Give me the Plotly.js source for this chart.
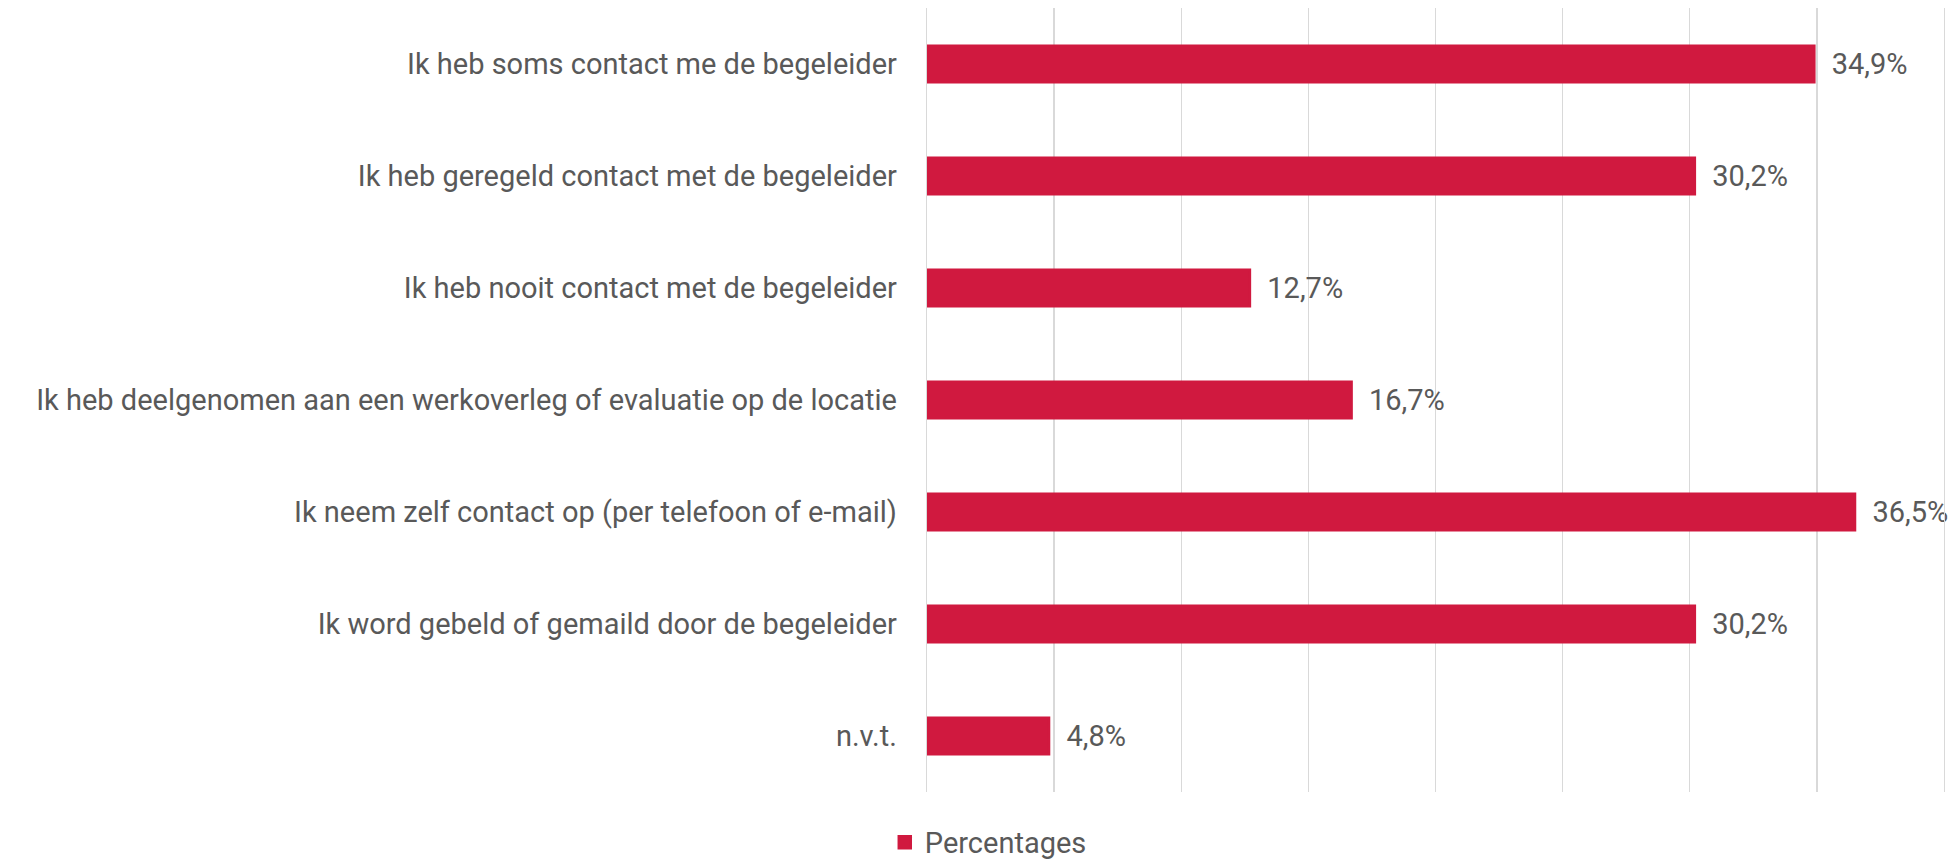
<!DOCTYPE html>
<html>
<head>
<meta charset="utf-8">
<script src="https://cdn.plot.ly/plotly-3.0.1.min.js"></script>
<style>
html,body{margin:0;padding:0;background:#fff;}
#chart{width:1957px;height:863px;}
</style>
</head>
<body>
<div id="chart"></div>
<script>
const categories = [
  "Ik heb soms contact me de begeleider",
  "Ik heb geregeld contact met de begeleider",
  "Ik heb nooit contact met de begeleider",
  "Ik heb deelgenomen aan een werkoverleg of evaluatie op de locatie",
  "Ik neem zelf contact op (per telefoon of e-mail)",
  "Ik word gebeld of gemaild door de begeleider",
  "n.v.t."
];
const percentages = [34.9, 30.2, 12.7, 16.7, 36.5, 30.2, 4.8];
const seriesName = "Percentages";
const valueLabels = percentages.map(v => '\u00A0\u00A0' + v.toFixed(1).replace('.', ',') + '%');

const FONT = 'Roboto, "Liberation Sans", sans-serif';
const GREY = '#595959';
const RED = '#D0193F';

const trace = {
  type: 'bar',
  orientation: 'h',
  name: seriesName,
  y: categories,
  x: percentages,
  text: valueLabels,
  textposition: 'outside',
  cliponaxis: false,
  textfont: {family: FONT, size: 29, color: GREY},
  marker: {color: RED, line: {color: RED, width: 2.5}},
  width: 0.325,
  hoverinfo: 'none',
  showlegend: true
};

const layout = {
  width: 1957,
  height: 863,
  margin: {l: 927, r: 13, t: 8, b: 71},
  paper_bgcolor: '#ffffff',
  plot_bgcolor: '#ffffff',
  font: {family: FONT, size: 29, color: GREY},
  showlegend: true,
  legend: {
    orientation: 'h',
    xref: 'container', x: 0.505, xanchor: 'center',
    yref: 'container', y: 0.024, yanchor: 'middle',
    font: {family: FONT, size: 29, color: GREY},
    itemwidth: 30
  },
  xaxis: {
    range: [0, 40],
    dtick: 5,
    tick0: 0,
    showticklabels: false,
    showgrid: true,
    gridcolor: '#d9d9d9',
    gridwidth: 1.3,
    zeroline: false,
    showline: false,
    fixedrange: true
  },
  yaxis: {
    type: 'category',
    autorange: 'reversed',
    showgrid: false,
    zeroline: false,
    showline: true,
    mirror: true,
    linecolor: '#d9d9d9',
    linewidth: 1.3,
    ticks: 'outside',
    ticklen: 23,
    tickcolor: 'rgba(0,0,0,0)',
    tickfont: {family: FONT, size: 29, color: GREY},
    fixedrange: true
  }
};

Plotly.newPlot('chart', [trace], layout, {displayModeBar: false, staticPlot: true});
</script>
</body>
</html>
